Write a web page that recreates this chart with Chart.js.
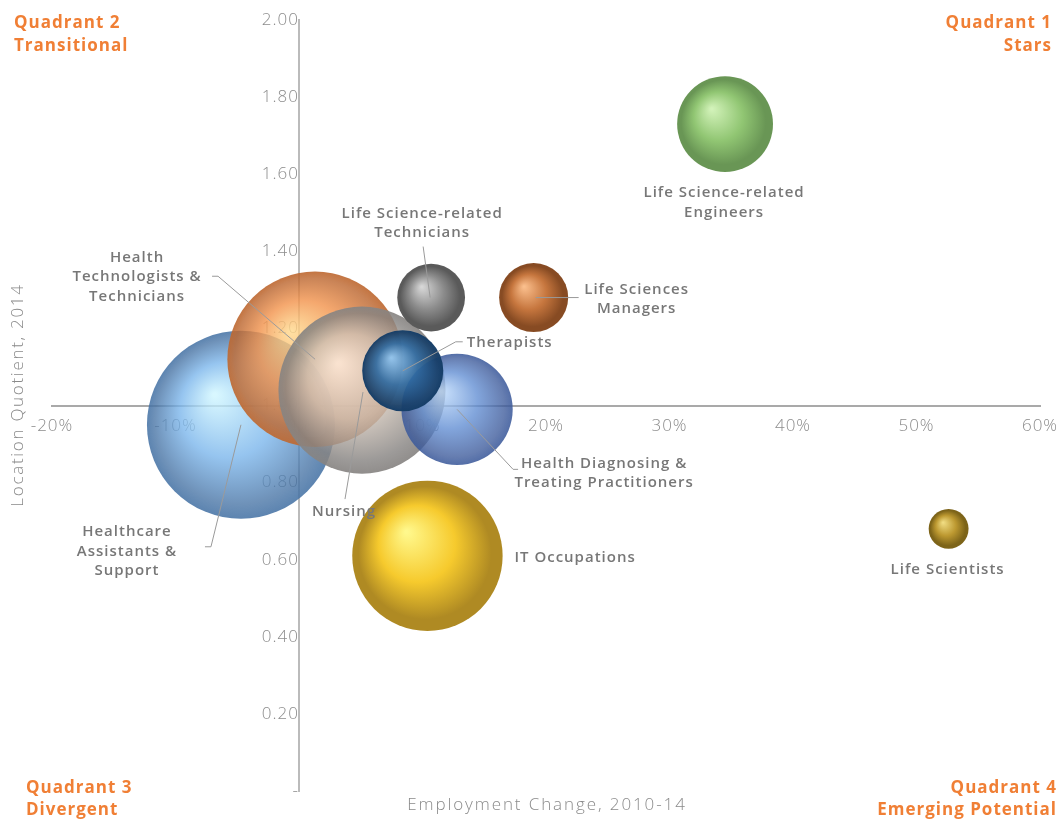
<!DOCTYPE html>
<html>
<head>
<meta charset="utf-8">
<script src="https://cdn.jsdelivr.net/npm/chart.js@4.4.1/dist/chart.umd.min.js"></script>
<style>
  html, body { margin: 0; padding: 0; background: #fff; }
  #wrap { width: 1061px; height: 819px; position: relative; }
</style>
</head>
<body>
<div id="wrap"><canvas id="chart"></canvas></div>
<script>
// occupations, drawn in this order (later ones sit on top)
const occupations = [
  "Healthcare Assistants & Support",
  "Health Technologists & Technicians",
  "Nursing",
  "Health Diagnosing & Treating Practitioners",
  "Therapists",
  "Life Science-related Technicians",
  "Life Sciences Managers",
  "IT Occupations",
  "Life Science-related Engineers",
  "Life Scientists"
];
const empChange   = [-4.7, 1.3, 5.1, 12.8, 8.4, 10.7, 19.0, 10.4, 34.5, 52.6]; // %, 2010-14
const locQuotient = [0.95, 1.12, 1.04, 0.99, 1.09, 1.28, 1.28, 0.61, 1.73, 0.68];
const bubbleSize  = [100, 87, 79, 35, 18.6, 13, 13.5, 64, 26, 4.5];           // relative employment
const xTickStep = 10;
const yTickStep = 0.2;

const FONT = "'Open Sans', 'DejaVu Sans', sans-serif";
const MAX_R = 94;

// sphere shading: highlight, base, shadow (rgb) per occupation
const palette = [
  ["205,245,255", "120,180,235", "70,115,165"],
  ["255,215,140", "242,148,78",  "190,105,50"],
  ["250,238,228", "205,192,180", "135,132,130"],
  ["185,215,250", "95,140,210",  "60,90,155"],
  ["140,195,240", "45,105,160",  "22,62,104"],
  ["215,215,215", "140,140,140", "90,90,90"],
  ["250,190,140", "198,118,62",  "135,75,35"],
  ["255,248,140", "246,202,45",  "175,138,35"],
  ["210,242,185", "145,198,115", "105,150,85"],
  ["240,220,130", "188,152,48",  "125,100,25"]
];
const alpha = [0.78, 0.82, 0.82, 0.78, 0.9, 1, 1, 1, 1, 1];

// label placement relative to bubble centre: text lines, offset, alignment, leader line
const labelSpecs = [
  { lines: ["Healthcare", "Assistants &", "Support"], dx: -114, dy: 107, align: "center", lead: [[0,0],[-30,122],[-36,122]] },
  { lines: ["Health", "Technologists &", "Technicians"], dx: -178, dy: -102, align: "center", lead: [[0,0],[-97,-83],[-103,-83]] },
  { lines: ["Nursing"], dx: -18, dy: 122, align: "center", lead: [[1,2],[-17,109]] },
  { lines: ["Health Diagnosing &", "Treating Practitioners"], dx: 147, dy: 54, align: "center", lead: [[0,0],[56,60],[61,60]] },
  { lines: ["Therapists"], dx: 64, dy: -28, align: "left", lead: [[0,0],[53,-29],[60,-29]] },
  { lines: ["Life Science-related", "Technicians"], dx: -9, dy: -84, align: "center", lead: [[-1,0],[-8,-51]] },
  { lines: ["Life Sciences", "Managers"], dx: 103, dy: -8, align: "center", lead: [[2,0],[45,0]] },
  { lines: ["IT Occupations"], dx: 87, dy: 2, align: "left", lead: null },
  { lines: ["Life Science-related", "Engineers"], dx: -1, dy: 69, align: "center", lead: null },
  { lines: ["Life Scientists"], dx: -1, dy: 41, align: "center", lead: null }
];

const points = occupations.map((o, i) => ({
  x: empChange[i],
  y: locQuotient[i],
  r: MAX_R * Math.sqrt(bubbleSize[i] / 100)
}));

function sphereFill(ctx) {
  const chart = ctx.chart;
  const i = ctx.dataIndex;
  if (i === undefined || !chart.scales.x || !chart.scales.y) return "#999";
  const cx = chart.scales.x.getPixelForValue(empChange[i]);
  const cy = chart.scales.y.getPixelForValue(locQuotient[i]);
  const r = MAX_R * Math.sqrt(bubbleSize[i] / 100);
  const [hi, base, dark] = palette[i];
  const a = alpha[i];
  if (!isFinite(cx) || !isFinite(cy)) return `rgba(${base},${a})`;
  const g = chart.ctx.createRadialGradient(cx - r * 0.28, cy - r * 0.32, r * 0.02, cx, cy, r);
  g.addColorStop(0, `rgba(${hi},${a})`);
  g.addColorStop(0.5, `rgba(${base},${a})`);
  g.addColorStop(0.88, `rgba(${dark},${a})`);
  g.addColorStop(1, `rgba(${dark},${Math.min(1, a + 0.1)})`);
  return g;
}

function spacedText(ctx, text, x, y, spacing) {
  ctx.letterSpacing = spacing + "px";
  ctx.fillText(text, x, y);
  ctx.letterSpacing = "0px";
}

// no label overhang padding: plot area is set by layout padding only
function noOverhang(scale) {
  scale.paddingTop = 0;
  scale.paddingBottom = 0;
  scale.paddingLeft = 0;
  scale.paddingRight = 0;
}

// wider tracking for the tick labels drawn by the scales
const tickSpacing = {
  id: "tickSpacing",
  beforeDraw(chart) { chart.ctx.letterSpacing = "1px"; },
  beforeDatasetsDraw(chart) { chart.ctx.letterSpacing = "0px"; }
};

const bubbleLabels = {
  id: "bubbleLabels",
  afterDatasetsDraw(chart) {
    const ctx = chart.ctx;
    const meta = chart.getDatasetMeta(0);
    ctx.save();
    meta.data.forEach((el, i) => {
      const spec = labelSpecs[i];
      if (spec.lead) {
        ctx.strokeStyle = "#9a9a9a";
        ctx.lineWidth = 1;
        ctx.beginPath();
        spec.lead.forEach(([px, py], k) => {
          if (k === 0) ctx.moveTo(el.x + px, el.y + py);
          else ctx.lineTo(el.x + px, el.y + py);
        });
        ctx.stroke();
      }
      ctx.fillStyle = "#777777";
      ctx.font = "600 15px " + FONT;
      ctx.textAlign = spec.align;
      ctx.textBaseline = "middle";
      spec.lines.forEach((t, k) => {
        spacedText(ctx, t, el.x + spec.dx, el.y + spec.dy + k * 19.5, 1);
      });
    });
    ctx.restore();
  }
};

const decorations = {
  id: "decorations",
  afterDraw(chart) {
    const ctx = chart.ctx;
    ctx.save();
    // quadrant names
    ctx.fillStyle = "#f07f35";
    ctx.font = "700 17px " + FONT;
    ctx.textBaseline = "middle";
    ctx.textAlign = "left";
    spacedText(ctx, "Quadrant 2", 14, 23, 1);
    spacedText(ctx, "Transitional", 14, 46, 1);
    spacedText(ctx, "Quadrant 3", 26, 788, 1);
    spacedText(ctx, "Divergent", 26, 810, 1);
    ctx.textAlign = "right";
    spacedText(ctx, "Quadrant 1", 1052, 23, 1);
    spacedText(ctx, "Stars", 1052, 46, 1);
    spacedText(ctx, "Quadrant 4", 1057, 788, 1);
    spacedText(ctx, "Emerging Potential", 1057, 810, 1);
    // axis titles
    ctx.fillStyle = "#8a8a8a";
    ctx.font = "300 17px " + FONT;
    ctx.textAlign = "center";
    spacedText(ctx, "Employment Change, 2010-14", 547, 805, 1.9);
    ctx.translate(18, 395);
    ctx.rotate(-Math.PI / 2);
    spacedText(ctx, "Location Quotient, 2014", 0, 0, 1.7);
    ctx.restore();
  }
};

const tickFont = { family: FONT, size: 17, weight: "300" };

new Chart(document.getElementById("chart"), {
  type: "bubble",
  data: {
    labels: occupations,
    datasets: [{
      data: points,
      backgroundColor: sphereFill,
      borderWidth: 0,
      hoverBorderWidth: 0,
      clip: false
    }]
  },
  options: {
    responsive: true,
    maintainAspectRatio: false,
    animation: false,
    events: [],
    layout: { autoPadding: false, padding: { left: 52, right: 21, top: 20, bottom: 28 } },
    plugins: { legend: { display: false }, tooltip: { enabled: false } },
    scales: {
      x: {
        type: "linear", min: -20, max: 60, position: { y: 1 },
        afterFit: noOverhang,
        grid: { display: false, drawTicks: false },
        border: { display: true, color: "rgba(140,140,140,0.75)", width: 2 },
        ticks: { stepSize: xTickStep, padding: 10, color: "#8c8c8c", font: tickFont,
                 callback: v => v + "%" }
      },
      y: {
        type: "linear", min: 0, max: 2, position: { x: 0 },
        afterFit: noOverhang,
        grid: { display: false, drawTicks: false },
        border: { display: true, color: "rgba(170,170,170,0.8)", width: 2 },
        ticks: { stepSize: yTickStep, padding: 18, color: "#8c8c8c", font: tickFont,
                 callback: v => Math.abs(v) < 1e-9 ? "-" : v.toFixed(2) }
      }
    }
  },
  plugins: [tickSpacing, bubbleLabels, decorations]
});
</script>
</body>
</html>
